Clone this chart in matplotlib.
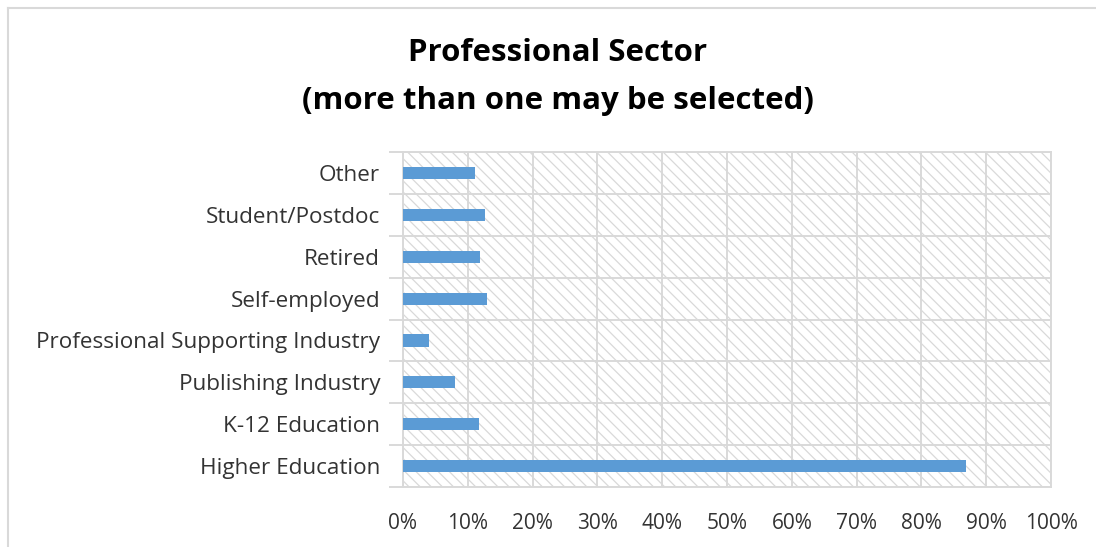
"""Horizontal bar chart of respondents' professional sector."""

import matplotlib.pyplot as plt
from matplotlib.patches import Rectangle
from matplotlib.ticker import FixedLocator, PercentFormatter

plt.rcParams["font.family"] = ["Open Sans", "DejaVu Sans"]
plt.rcParams["hatch.linewidth"] = 0.9

sectors = [
    "Higher Education",
    "K-12 Education",
    "Publishing Industry",
    "Professional Supporting Industry",
    "Self-employed",
    "Retired",
    "Student/Postdoc",
    "Other",
]
shares = [0.868, 0.118, 0.081, 0.040, 0.130, 0.119, 0.126, 0.111]

bar_color = "#5B9BD5"
grid_color = "#d9d9d9"
text_color = "#333333"

fig = plt.figure(figsize=(10.96, 5.47), dpi=100)
ax = fig.add_axes([0.3677, 0.1097, 0.5913, 0.6123])

positions = list(range(len(sectors)))
ax.barh(positions, shares, height=0.29, color=bar_color, zorder=3)

# hatched plot-area background
ax.add_patch(Rectangle((0, 0), 1, 1, transform=ax.transAxes, facecolor="white",
                       edgecolor=grid_color, hatch="\\\\\\", linewidth=0, zorder=0))

ax.set_xlim(0, 1)
ax.set_ylim(-0.5, len(sectors) - 0.5)
ax.xaxis.set_major_locator(FixedLocator([i / 10 for i in range(11)]))
ax.xaxis.set_major_formatter(PercentFormatter(1.0, decimals=0))
ax.set_yticks(positions)
ax.set_yticklabels(sectors)
ax.yaxis.set_minor_locator(FixedLocator([p - 0.5 for p in range(len(sectors) + 1)]))

ax.grid(axis="x", which="major", color=grid_color, linewidth=1.4, zorder=1)
ax.grid(axis="y", which="minor", color=grid_color, linewidth=1.4, zorder=1)
ax.set_axisbelow(True)

ax.tick_params(axis="x", length=0, pad=19, labelsize=15, labelcolor=text_color)
ax.tick_params(axis="y", which="major", length=0, pad=16.5, labelsize=16.2, labelcolor=text_color)
ax.tick_params(axis="y", which="minor", length=10, width=1.4, color=grid_color)

for side in ("top", "right", "bottom", "left"):
    ax.spines[side].set_color(grid_color)
    ax.spines[side].set_linewidth(1.4)

# thin outer frame of the chart area
fig.add_artist(plt.Line2D([8 / 1096, 8 / 1096], [0, 1 - 8 / 547], transform=fig.transFigure,
                          color="#d9d9d9", linewidth=1.5))
fig.add_artist(plt.Line2D([8 / 1096, 1], [1 - 8 / 547, 1 - 8 / 547], transform=fig.transFigure,
                          color="#d9d9d9", linewidth=1.5))

fig.text(558 / 1096, 1 - 77 / 547, "Professional Sector\n(more than one may be selected)",
         ha="center", va="center", fontsize=22.5, fontweight="bold", color="black",
         linespacing=1.77)

fig.savefig("out.png", dpi=100)
